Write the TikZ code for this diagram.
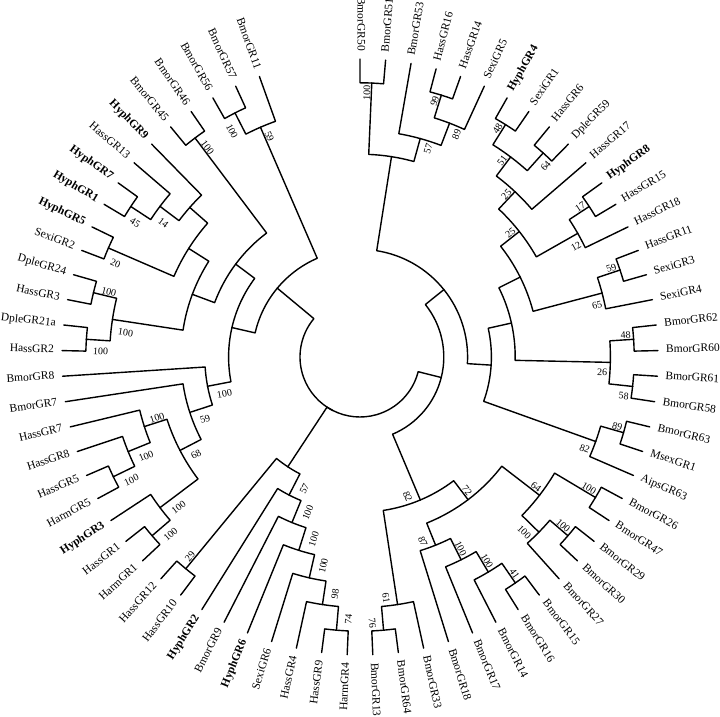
\documentclass[tikz,border=0pt]{standalone}
\usepackage{fontspec}
\setmainfont{Liberation Serif}

\tikzset{
  branch/.style={line width=1.4pt, line cap=round, line join=round},
  leaflab/.style={font=\fontsize{11.5}{13}\selectfont, inner sep=0pt},
  hyphlab/.style={leaflab, font=\fontsize{11.5}{13}\selectfont\bfseries},
  bootlab/.style={font=\fontsize{10}{11}\selectfont, inner sep=0pt},
}

\def\rtip{298}   % radius of the tips
\def\rstep{23.8} % one level of the cladogram
\def\nslot{73}   % 70 leaves, gap at the top

\newcommand{\angof}[1]{\csname tang@#1\endcsname}
\newcommand{\radof}[1]{\csname trad@#1\endcsname}

% radial line out of a child, then along the arc of its parent
\newcommand{\branch}[2]{%
  \edef\brA{\angof{#1}}\edef\brB{\angof{#2}}\edef\brR{\radof{#2}}%
  \draw[branch] (#1) -- (\brA:\brR pt) arc[start angle=\brA, end angle=\brB, radius=\brR pt];}

% slot, name, style
\newcommand{\leaf}[3]{%
  \pgfmathsetmacro{\lfang}{90-360/\nslot*(#1-1)}%
  \expandafter\xdef\csname tang@#2\endcsname{\lfang}%
  \expandafter\xdef\csname trad@#2\endcsname{\rtip}%
  \coordinate (#2) at (\lfang:\rtip pt);
  \pgfmathtruncatemacro{\lfright}{cos(\lfang)>0}%
  \ifnum\lfright=1
    \node[#3, anchor=mid west, rotate=\lfang] (lab-#2) at (\lfang:306pt) {#2};
  \else
    \pgfmathsetmacro{\lfrot}{\lfang+180}%
    \node[#3, anchor=mid east, rotate=\lfrot] (lab-#2) at (\lfang:306pt) {#2};
  \fi}

% name, level, first child, second child, support, side (1 first / -1 second child)
\newcommand{\clade}[6]{%
  \pgfmathsetmacro{\cldA}{(\angof{#3}+\angof{#4})/2}%
  \pgfmathsetmacro{\cldR}{\rtip-#2*\rstep}%
  \expandafter\xdef\csname tang@#1\endcsname{\cldA}%
  \expandafter\xdef\csname trad@#1\endcsname{\cldR}%
  \coordinate (#1) at (\cldA:\cldR pt);
  \branch{#3}{#1}\branch{#4}{#1}%
  \ifx\relax#5\relax\else
    \pgfmathtruncatemacro{\cldright}{cos(\cldA)>0}%
    \ifnum\cldright=1
      \pgfmathsetmacro{\cldS}{#6>0 ? 4.5 : -10.5}%
      \pgfmathsetmacro{\cldQ}{\cldR-2.5}%
      \pgfmathsetmacro{\cldD}{\cldA+\cldS/\cldQ*180/pi}%
      \node[bootlab, anchor=east, rotate=\cldA] (sup-#1) at (\cldD:\cldQ pt) {#5};
    \else
      \pgfmathsetmacro{\cldS}{#6>0 ? 11 : -4.5}%
      \pgfmathsetmacro{\cldQ}{\cldR-7}%
      \pgfmathsetmacro{\cldD}{\cldA+\cldS/\cldQ*180/pi}%
      \pgfmathsetmacro{\cldT}{\cldA+180}%
      \node[bootlab, anchor=west, rotate=\cldT] (sup-#1) at (\cldD:\cldQ pt) {#5};
    \fi
  \fi}

\begin{document}
\begin{tikzpicture}
  \useasboundingbox (-360pt,-360pt) rectangle (360pt,357pt);

  % leaves, clockwise from the top
  \foreach \i/\g in {1/BmorGR50, 2/BmorGR51, 3/BmorGR53, 4/HassGR16, 5/HassGR14,
      6/SexiGR5, 8/SexiGR1, 9/HassGR6, 10/DpleGR59, 11/HassGR17, 13/HassGR15,
      14/HassGR18, 15/HassGR11, 16/SexiGR3, 17/SexiGR4, 18/BmorGR62, 19/BmorGR60,
      20/BmorGR61, 21/BmorGR58, 22/BmorGR63, 23/MsexGR1, 24/AipsGR63, 25/BmorGR26,
      26/BmorGR47, 27/BmorGR29, 28/BmorGR30, 29/BmorGR27, 30/BmorGR15, 31/BmorGR16,
      32/BmorGR14, 33/BmorGR17, 34/BmorGR18, 35/BmorGR33, 36/BmorGR64, 37/BmorGR13,
      38/HarmGR4, 39/HassGR9, 40/HassGR4, 41/SexiGR6, 43/BmorGR9, 45/HassGR10,
      46/HassGR12, 47/HarmGR1, 48/HassGR1, 50/HarmGR5, 51/HassGR5, 52/HassGR8,
      53/HassGR7, 54/BmorGR7, 55/BmorGR8, 56/HassGR2, 57/DpleGR21a, 58/HassGR3,
      59/DpleGR24, 60/SexiGR2, 64/HassGR13, 66/BmorGR45, 67/BmorGR46, 68/BmorGR56,
      69/BmorGR57, 70/BmorGR11}
    {\leaf{\i}{\g}{leaflab}}
  \foreach \i/\g in {7/HyphGR4, 12/HyphGR8, 42/HyphGR6, 44/HyphGR2, 49/HyphGR3,
      61/HyphGR5, 62/HyphGR1, 63/HyphGR7, 65/HyphGR9}
    {\leaf{\i}{\g}{hyphlab}}

  % top
  \clade{nA1}{1}{BmorGR50}{BmorGR51}{100}{1}
  \clade{nA3}{1}{HassGR16}{HassGR14}{99}{1}
  \clade{nA4}{2}{nA3}{SexiGR5}{89}{-1}
  \clade{nA2}{3}{BmorGR53}{nA4}{57}{-1}
  \clade{nA}{4}{nA1}{nA2}{}{1}
  % right
  \clade{nB1}{1}{HyphGR4}{SexiGR1}{48}{1}
  \clade{nB2}{1}{HassGR6}{DpleGR59}{64}{-1}
  \clade{nB3}{2}{nB1}{nB2}{51}{1}
  \clade{nB4}{3}{nB3}{HassGR17}{25}{1}
  \clade{nB5}{1}{HyphGR8}{HassGR15}{17}{1}
  \clade{nB6}{2}{nB5}{HassGR18}{12}{-1}
  \clade{nB7}{4}{nB4}{nB6}{25}{1}
  \clade{nB8}{1}{HassGR11}{SexiGR3}{59}{1}
  \clade{nB9}{2}{nB8}{SexiGR4}{65}{-1}
  \clade{nB10}{5}{nB7}{nB9}{}{1}
  \clade{nB11}{1}{BmorGR62}{BmorGR60}{48}{1}
  \clade{nB12}{1}{BmorGR61}{BmorGR58}{58}{-1}
  \clade{nB13}{2}{nB11}{nB12}{26}{-1}
  \clade{nB14}{6}{nB10}{nB13}{}{1}
  \clade{nB15}{1}{BmorGR63}{MsexGR1}{89}{1}
  \clade{nB16}{2}{nB15}{AipsGR63}{82}{-1}
  \clade{nB17}{7}{nB14}{nB16}{}{-1}
  \clade{nB}{8}{nA}{nB17}{}{1}
  % lower right
  \clade{nC1}{1}{BmorGR26}{BmorGR47}{100}{1}
  \clade{nC2}{1}{BmorGR29}{BmorGR30}{100}{1}
  \clade{nC3}{2}{nC2}{BmorGR27}{100}{-1}
  \clade{nC4}{3}{nC1}{nC3}{64}{1}
  \clade{nC5}{1}{BmorGR15}{BmorGR16}{41}{1}
  \clade{nC6}{2}{nC5}{BmorGR14}{100}{1}
  \clade{nC7}{3}{nC6}{BmorGR17}{100}{1}
  \clade{nC8}{4}{nC7}{BmorGR18}{87}{-1}
  \clade{nC9}{5}{nC4}{nC8}{72}{1}
  \clade{nC10}{1}{BmorGR64}{BmorGR13}{76}{-1}
  \clade{nC11}{2}{BmorGR33}{nC10}{61}{-1}
  \clade{nC}{6}{nC9}{nC11}{82}{-1}
  \clade{nR}{9}{nB}{nC}{}{1}
  % bottom
  \clade{nD1}{1}{HarmGR4}{HassGR9}{74}{1}
  \clade{nD2}{2}{nD1}{HassGR4}{98}{1}
  \clade{nD3}{3}{nD2}{SexiGR6}{100}{1}
  \clade{nD4}{4}{nD3}{HyphGR6}{100}{1}
  \clade{nD5}{5}{nD4}{BmorGR9}{100}{1}
  \clade{nD6}{6}{nD5}{HyphGR2}{57}{1}
  \clade{nD7}{1}{HassGR10}{HassGR12}{29}{-1}
  \clade{nD}{7}{nD6}{nD7}{}{1}
  % left
  \clade{nE1}{1}{HarmGR1}{HassGR1}{100}{1}
  \clade{nE2}{2}{nE1}{HyphGR3}{100}{1}
  \clade{nE3}{1}{HarmGR5}{HassGR5}{100}{1}
  \clade{nE4}{2}{nE3}{HassGR8}{100}{1}
  \clade{nE5}{3}{nE4}{HassGR7}{100}{-1}
  \clade{nE6}{4}{nE2}{nE5}{68}{1}
  \clade{nE7}{5}{nE6}{BmorGR7}{59}{1}
  \clade{nE8}{6}{nE7}{BmorGR8}{100}{1}
  \clade{nF1}{1}{HassGR2}{DpleGR21a}{100}{1}
  \clade{nF2}{1}{HassGR3}{DpleGR24}{100}{-1}
  \clade{nF3}{2}{nF1}{nF2}{100}{1}
  \clade{nF4}{1}{SexiGR2}{HyphGR5}{20}{1}
  \clade{nF5}{1}{HyphGR1}{HyphGR7}{45}{1}
  \clade{nF6}{2}{nF5}{HassGR13}{14}{1}
  \clade{nF7}{3}{nF6}{HyphGR9}{}{-1}
  \clade{nF8}{4}{nF4}{nF7}{}{-1}
  \clade{nF9}{5}{nF3}{nF8}{}{1}
  \clade{nF10}{1}{BmorGR45}{BmorGR46}{100}{-1}
  \clade{nF11}{6}{nF9}{nF10}{}{-1}
  \clade{nW}{7}{nE8}{nF11}{}{1}
  \clade{nG1}{1}{BmorGR56}{BmorGR57}{100}{1}
  \clade{nG2}{2}{nG1}{BmorGR11}{59}{-1}
  \clade{nZ}{8}{nW}{nG2}{}{-1}
  % root, three branches
  \clade{root}{10}{nR}{nZ}{}{1}
  \branch{nD}{root}
\end{tikzpicture}
\end{document}
